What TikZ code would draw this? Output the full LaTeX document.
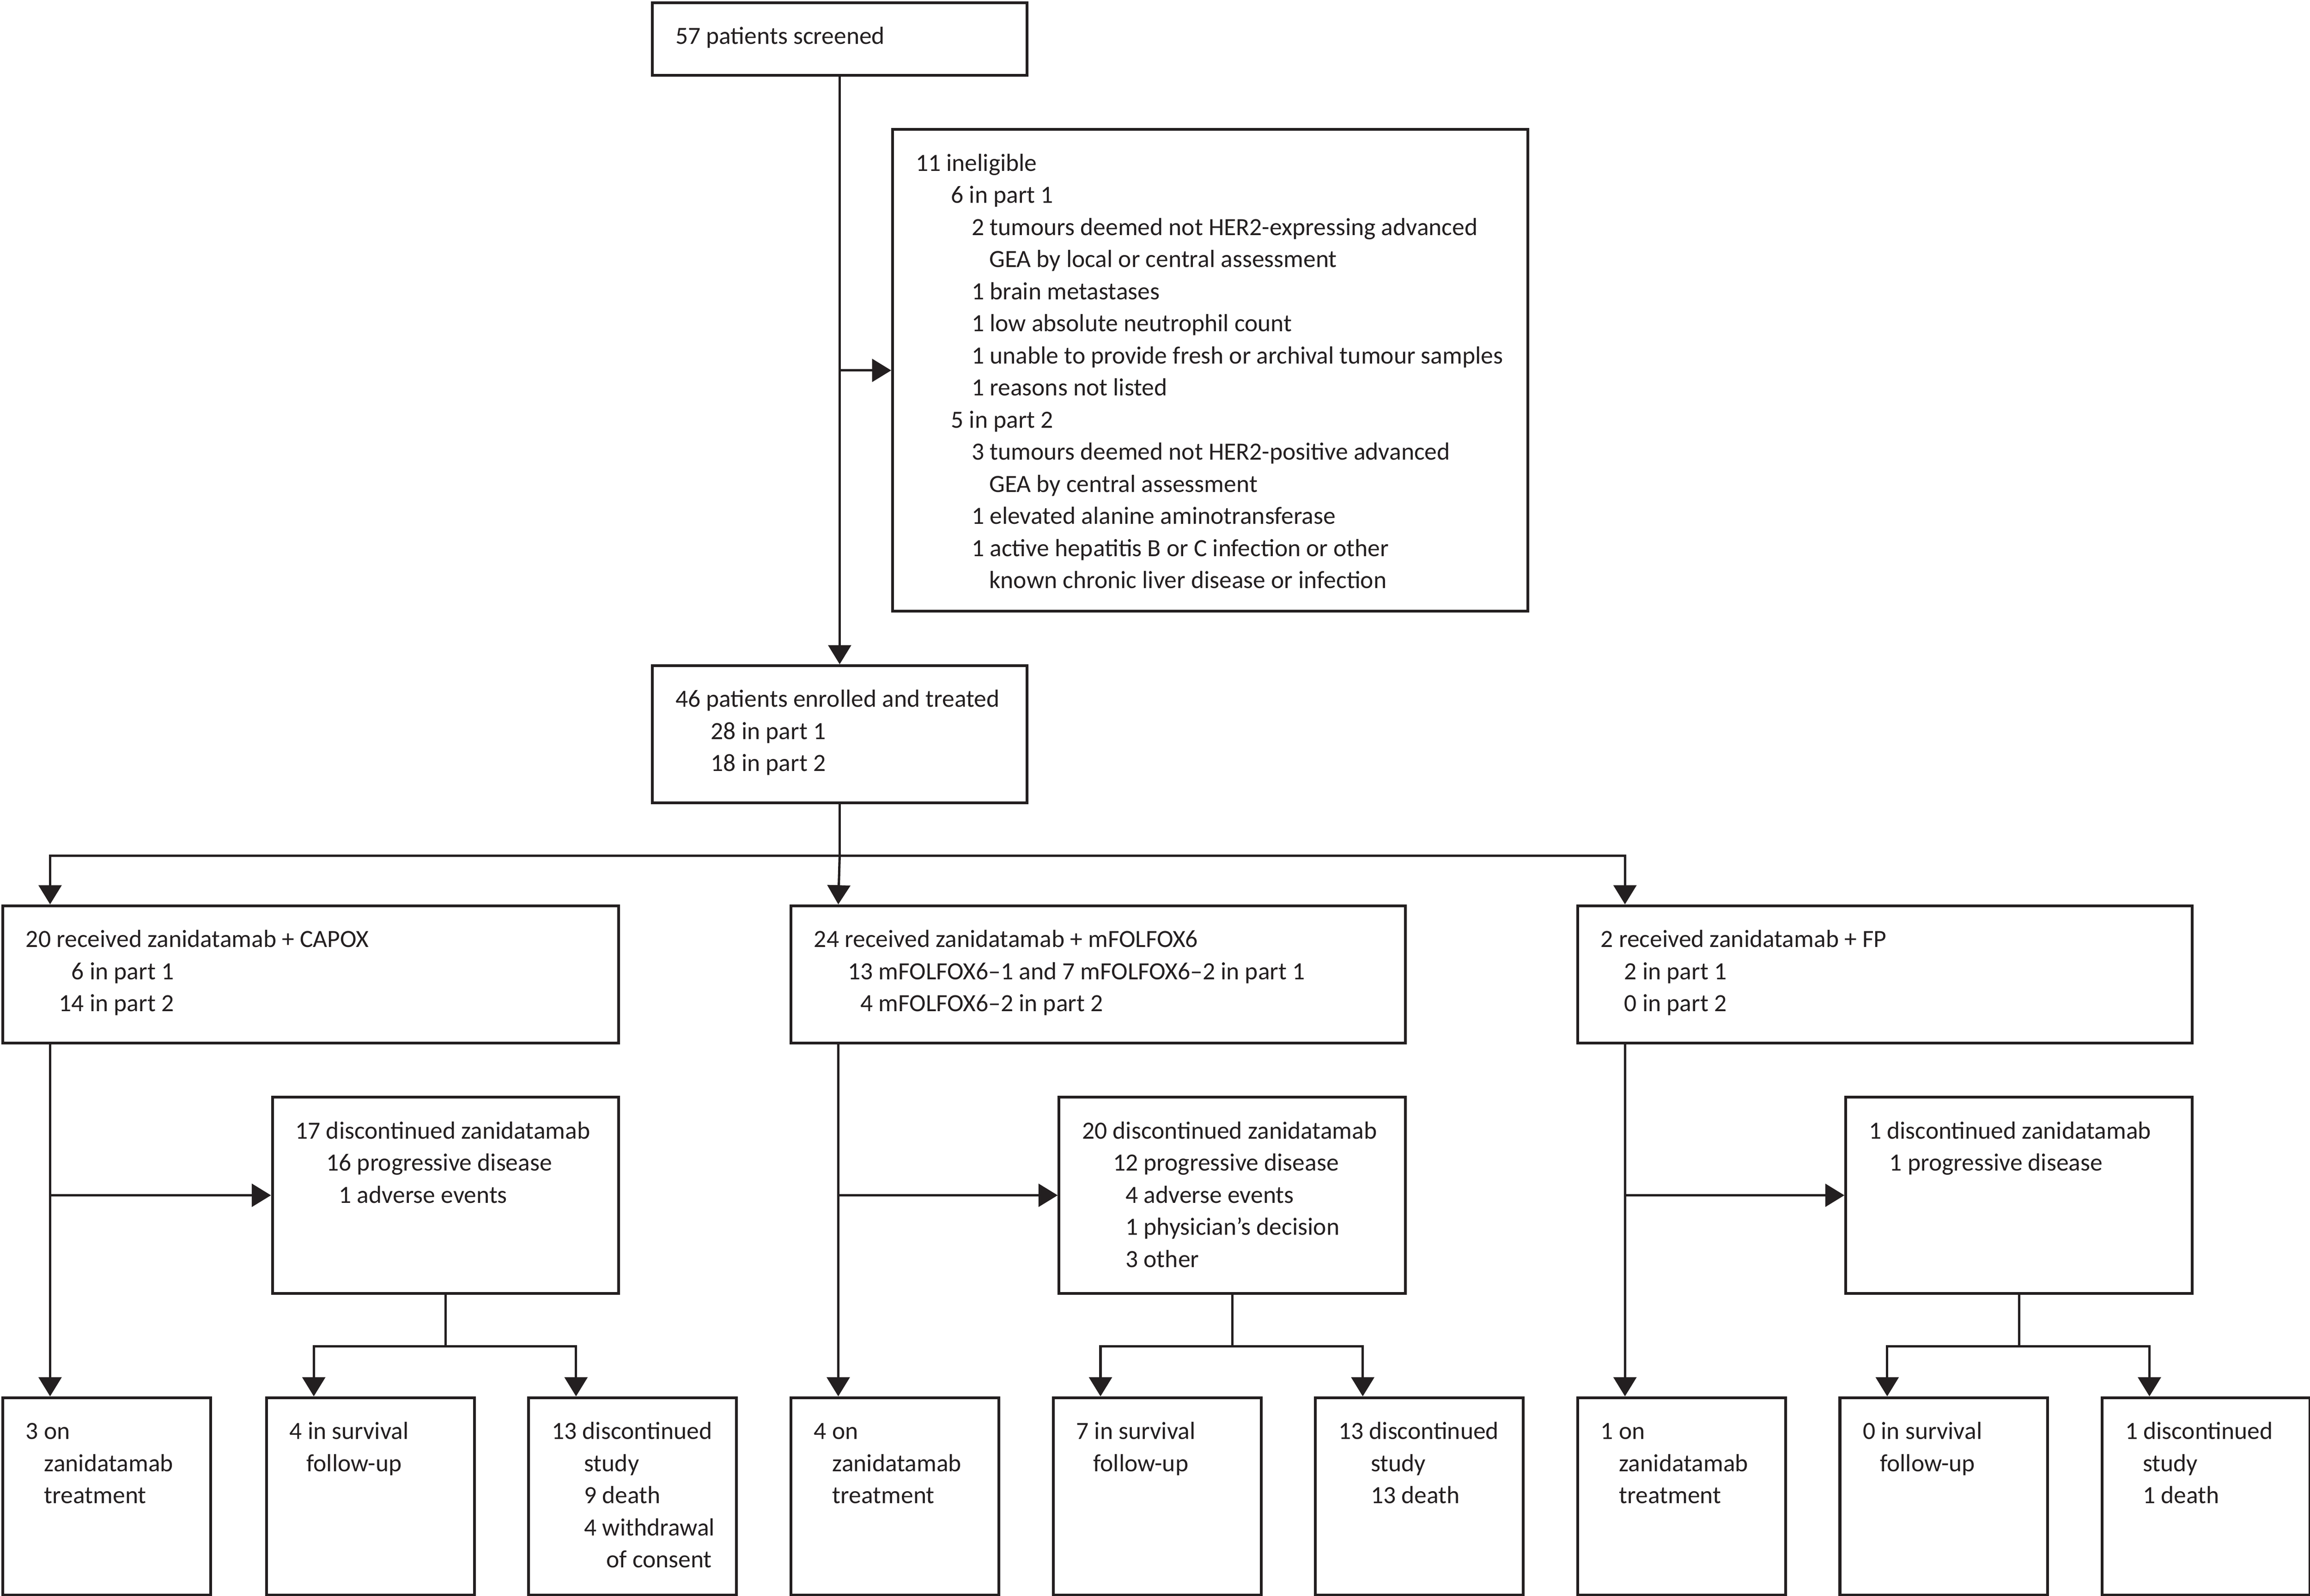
\documentclass[tikz,border=0pt]{standalone}
\usepackage{fontspec}
\setmainfont{Carlito}
\usetikzlibrary{arrows.meta,calc}
\definecolor{ink}{HTML}{231F20}
\newcommand\ind[1]{\hspace*{#1pt}}
\newcommand\dg{\phantom{0}}
% box: name, x1, y1, x2, y2 (outer edges, y downwards)
\newcommand\bx[5]{\node[box, minimum width={#4pt-#2pt-1.9pt}, minimum height={#5pt-#3pt-1.9pt}] (#1) at (#2+0.95,#3+0.95) {};
  \coordinate (#1-in) at ([xshift=33.05pt]#1.north west);}
\newcommand\btext[2]{\node[txt] (#1-t) at ([shift={(16.4,29.1)}]#1.north west) {\begin{tabular}[t]{@{}l@{}}#2\end{tabular}};}
\begin{document}
\begin{tikzpicture}[x=1pt,y=-1pt,
  box/.style={draw=ink, line width=1.9pt, anchor=north west, inner sep=0pt, fill=white},
  ln/.style={draw=ink, line width=1.6pt},
  arr/.style={ln, -{Triangle[length=13pt,width=15.5pt]}},
  txt/.style={anchor=base west, inner sep=0pt, text=ink, font=\fontsize{16.8}{21.8}\selectfont}]
\useasboundingbox (0,0) rectangle (1568,1083.3);

% boxes
\bx{scr}{441}{0}{697}{51}
\bx{inel}{604}{86}{1037}{415}
\bx{enr}{441}{450}{697}{545}
\bx{cap}{0}{613}{420}{708}
\bx{fol}{535}{613}{954}{708}
\bx{fp}{1069}{613}{1488}{708}
\bx{d1}{183}{743}{420}{878}
\bx{d2}{717}{743}{954}{878}
\bx{d3}{1251}{743}{1488}{878}
\bx{r1}{0}{947}{143}{1083}
\bx{r2}{179}{947}{322}{1083}
\bx{r3}{357}{947}{500}{1083}
\bx{r4}{535}{947}{678}{1083}
\bx{r5}{713}{947}{856}{1083}
\bx{r6}{891}{947}{1034}{1083}
\bx{r7}{1069}{947}{1212}{1083}
\bx{r8}{1247}{947}{1390}{1083}
\bx{r9}{1425}{947}{1568}{1083}

% texts
\btext{scr}{57 patients screened}
\btext{inel}{11 ineligible\\
\ind{24}6 in part 1\\
\ind{38}2 tumours deemed not HER2-expressing advanced\\
\ind{50}GEA by local or central assessment\\
\ind{38}1 brain metastases\\
\ind{38}1 low absolute neutrophil count\\
\ind{38}1 unable to provide fresh or archival tumour samples\\
\ind{38}1 reasons not listed\\
\ind{24}5 in part 2\\
\ind{38}3 tumours deemed not HER2-positive advanced\\
\ind{50}GEA by central assessment\\
\ind{38}1 elevated alanine aminotransferase\\
\ind{38}1 active hepatitis B or C infection or other\\
\ind{50}known chronic liver disease or infection}
\btext{enr}{46 patients enrolled and treated\\
\ind{24}28 in part 1\\
\ind{24}18 in part 2}
\btext{cap}{20 received zanidatamab + CAPOX\\
\ind{22.5}\dg6 in part 1\\
\ind{22.5}14 in part 2}
\btext{fol}{24 received zanidatamab + mFOLFOX6\\
\ind{23}13 mFOLFOX6–1 and 7 mFOLFOX6–2 in part 1\\
\ind{23}\dg4 mFOLFOX6–2 in part 2}
\btext{fp}{2 received zanidatamab + FP\\
\ind{16}2 in part 1\\
\ind{16}0 in part 2}
\btext{d1}{17 discontinued zanidatamab\\
\ind{21}16 progressive disease\\
\ind{21}\dg1 adverse events}
\btext{d2}{20 discontinued zanidatamab\\
\ind{21}12 progressive disease\\
\ind{21}\dg4 adverse events\\
\ind{21}\dg1 physician’s decision\\
\ind{21}\dg3 other}
\btext{d3}{1 discontinued zanidatamab\\
\ind{14}1 progressive disease}
\btext{r1}{3 on\\ \ind{12.5}zanidatamab\\ \ind{12.5}treatment}
\btext{r2}{4 in survival\\ \ind{11.5}follow-up}
\btext{r3}{13 discontinued\\ \ind{22}study\\ \ind{22}9 death\\ \ind{22}4 withdrawal\\ \ind{37}of consent}
\btext{r4}{4 on\\ \ind{12.5}zanidatamab\\ \ind{12.5}treatment}
\btext{r5}{7 in survival\\ \ind{11.5}follow-up}
\btext{r6}{13 discontinued\\ \ind{22}study\\ \ind{22}13 death}
\btext{r7}{1 on\\ \ind{12.5}zanidatamab\\ \ind{12.5}treatment}
\btext{r8}{0 in survival\\ \ind{11.5}follow-up}
\btext{r9}{1 discontinued\\ \ind{12}study\\ \ind{12}1 death}

% connectors
\draw[arr] (scr.south) -- (enr.north);
\draw[arr] (scr.south |- inel.west) -- (inel.west);
\coordinate (sp) at ([yshift=-35pt]enr.south);
\draw[ln] (enr.south) -- (sp);
\draw[arr] (sp) -| (cap-in);
\draw[arr] (sp) -- (fol-in);
\draw[arr] (sp) -| (fp-in);

\foreach \b/\d/\a/\m/\c in {cap/d1/r1/r2/r3, fol/d2/r4/r5/r6, fp/d3/r7/r8/r9}{
  \draw[arr] (\a-in |- \b.south) -- (\a-in);
  \draw[arr] (\a-in |- \d.west) -- (\d.west);
  \coordinate (\d-sp) at ([yshift=-35pt]\d.south);
  \draw[ln] (\d.south) -- (\d-sp);
  \draw[arr] (\d-sp) -| (\m-in);
  \draw[arr] (\d-sp) -| (\c-in);
}
\end{tikzpicture}
\end{document}
